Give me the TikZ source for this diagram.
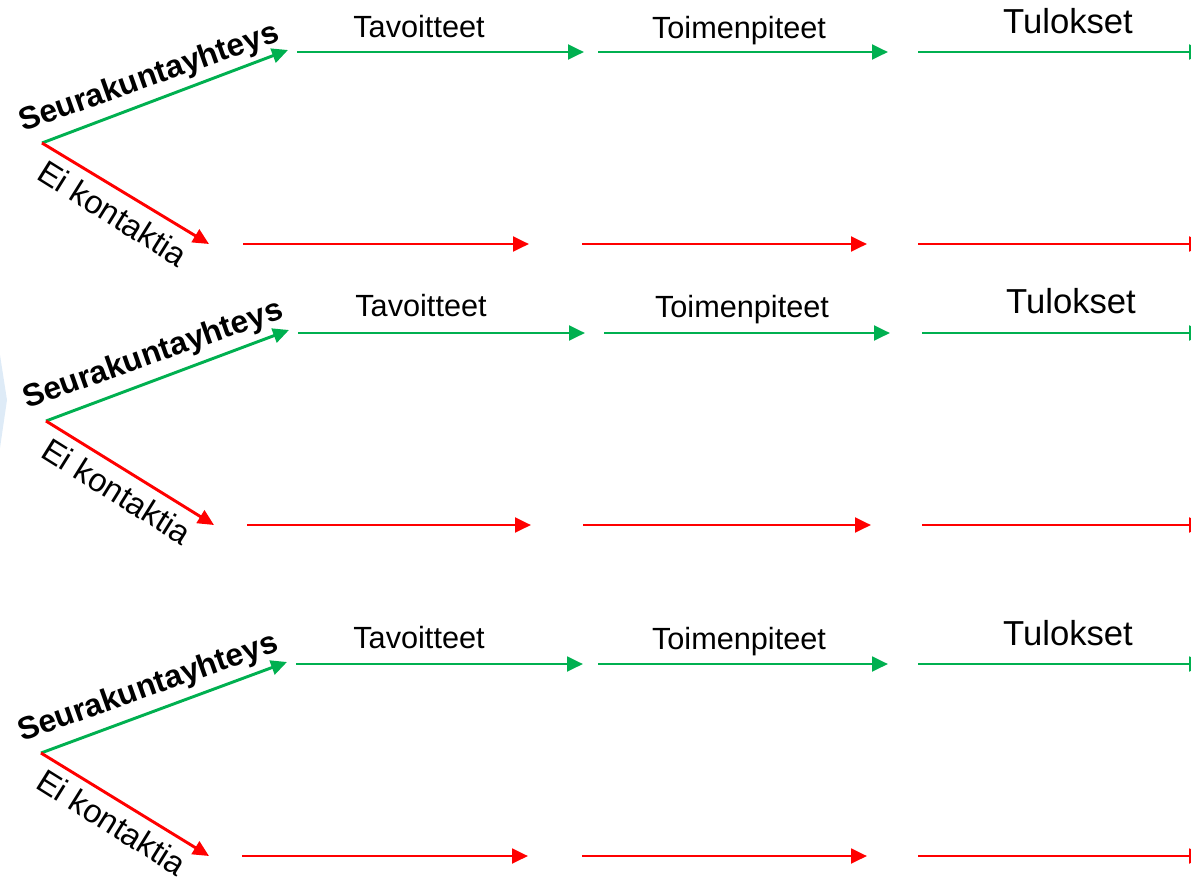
\documentclass[tikz,border=0pt]{standalone}
\usepackage{fontspec}
\setmainfont{Liberation Sans}
\usetikzlibrary{arrows.meta}
\definecolor{pathgreen}{RGB}{0,176,80}
\definecolor{pathred}{RGB}{255,0,0}
\definecolor{edgeblue}{RGB}{222,235,247}

\begin{document}
\begin{tikzpicture}[x=0.75pt,y=0.75pt,yscale=-1,xscale=1,
  garrow/.style={draw=pathgreen,line width=2.2pt,-{Triangle[length=12pt,width=11pt]}},
  rarrow/.style={draw=pathred,line width=2.2pt,-{Triangle[length=12pt,width=11pt]}},
  phase/.style={anchor=base,inner sep=0pt,font=\fontsize{23}{27}\selectfont},
  result/.style={anchor=base,inner sep=0pt,font=\fontsize{26}{30}\selectfont},
  contact/.style={anchor=base,inner sep=0pt,rotate=19.5,font=\fontsize{23.8}{28}\selectfont\bfseries},
  nocontact/.style={inner sep=0pt,rotate=-32,font=\fontsize{24.5}{28}\selectfont}]
\clip (0,0) rectangle (1191,879);

%Shape: faint edge on the left
\fill [edgeblue] (0,355) -- (7,400) -- (0,448) -- cycle ;

% ---- block 1
\coordinate (o1) at (42,143);
\coordinate (sy1) at (288,50);
\coordinate (ek1) at (209,244);
\coordinate (ta1) at (297,52); \coordinate (tb1) at (584,52);
\coordinate (ma1) at (598,52); \coordinate (mb1) at (888,52);
\coordinate (la1) at (918,52); \coordinate (lb1) at (1205,52);
\coordinate (ra1) at (243,244); \coordinate (rb1) at (529,244);
\coordinate (rc1) at (582,244); \coordinate (rd1) at (867,244);
\coordinate (re1) at (918,244); \coordinate (rf1) at (1205,244);

%Straight Lines
\draw [garrow] (o1) -- (sy1) ;
\draw [rarrow] (o1) -- (ek1) ;
\draw [garrow] (ta1) -- (tb1) ;
\draw [garrow] (ma1) -- (mb1) ;
\draw [garrow] (la1) -- (lb1) ;
\draw [rarrow] (ra1) -- (rb1) ;
\draw [rarrow] (rc1) -- (rd1) ;
\draw [rarrow] (re1) -- (rf1) ;

% Text Node
\node [contact] (sk1) at (152,86) {Seurakuntayhteys};
\node [nocontact] (ei1) at (113,213) {Ei kontaktia};
\node [phase] (tav1) at (419,37) {Tavoitteet};
\node [phase] (toi1) at (739,38) {Toimenpiteet};
\node [result] (tul1) at (1068,33) {Tulokset};

% ---- block 2
\coordinate (o2) at (46,421);
\coordinate (sy2) at (289,330);
\coordinate (ek2) at (214,525);
\coordinate (ta2) at (298,333); \coordinate (tb2) at (585,333);
\coordinate (ma2) at (604,333); \coordinate (mb2) at (890,333);
\coordinate (la2) at (922,333); \coordinate (lb2) at (1205,333);
\coordinate (ra2) at (247,525); \coordinate (rb2) at (531,525);
\coordinate (rc2) at (583,525); \coordinate (rd2) at (871,525);
\coordinate (re2) at (922,525); \coordinate (rf2) at (1205,525);

%Straight Lines
\draw [garrow] (o2) -- (sy2) ;
\draw [rarrow] (o2) -- (ek2) ;
\draw [garrow] (ta2) -- (tb2) ;
\draw [garrow] (ma2) -- (mb2) ;
\draw [garrow] (la2) -- (lb2) ;
\draw [rarrow] (ra2) -- (rb2) ;
\draw [rarrow] (rc2) -- (rd2) ;
\draw [rarrow] (re2) -- (rf2) ;

% Text Node
\node [contact] (sk2) at (156,363) {Seurakuntayhteys};
\node [nocontact] (ei2) at (117,491) {Ei kontaktia};
\node [phase] (tav2) at (421,316) {Tavoitteet};
\node [phase] (toi2) at (742,317) {Toimenpiteet};
\node [result] (tul2) at (1071,313) {Tulokset};

% ---- block 3
\coordinate (o3) at (41,753);
\coordinate (sy3) at (287,662);
\coordinate (ek3) at (209,856);
\coordinate (ta3) at (296,664); \coordinate (tb3) at (583,664);
\coordinate (ma3) at (598,664); \coordinate (mb3) at (888,664);
\coordinate (la3) at (918,664); \coordinate (lb3) at (1205,664);
\coordinate (ra3) at (242,856); \coordinate (rb3) at (528,856);
\coordinate (rc3) at (582,856); \coordinate (rd3) at (867,856);
\coordinate (re3) at (918,856); \coordinate (rf3) at (1205,856);

%Straight Lines
\draw [garrow] (o3) -- (sy3) ;
\draw [rarrow] (o3) -- (ek3) ;
\draw [garrow] (ta3) -- (tb3) ;
\draw [garrow] (ma3) -- (mb3) ;
\draw [garrow] (la3) -- (lb3) ;
\draw [rarrow] (ra3) -- (rb3) ;
\draw [rarrow] (rc3) -- (rd3) ;
\draw [rarrow] (re3) -- (rf3) ;

% Text Node
\node [contact] (sk3) at (151,696) {Seurakuntayhteys};
\node [nocontact] (ei3) at (112,822) {Ei kontaktia};
\node [phase] (tav3) at (419,648) {Tavoitteet};
\node [phase] (toi3) at (739,649) {Toimenpiteet};
\node [result] (tul3) at (1068,645) {Tulokset};

\end{tikzpicture}
\end{document}
